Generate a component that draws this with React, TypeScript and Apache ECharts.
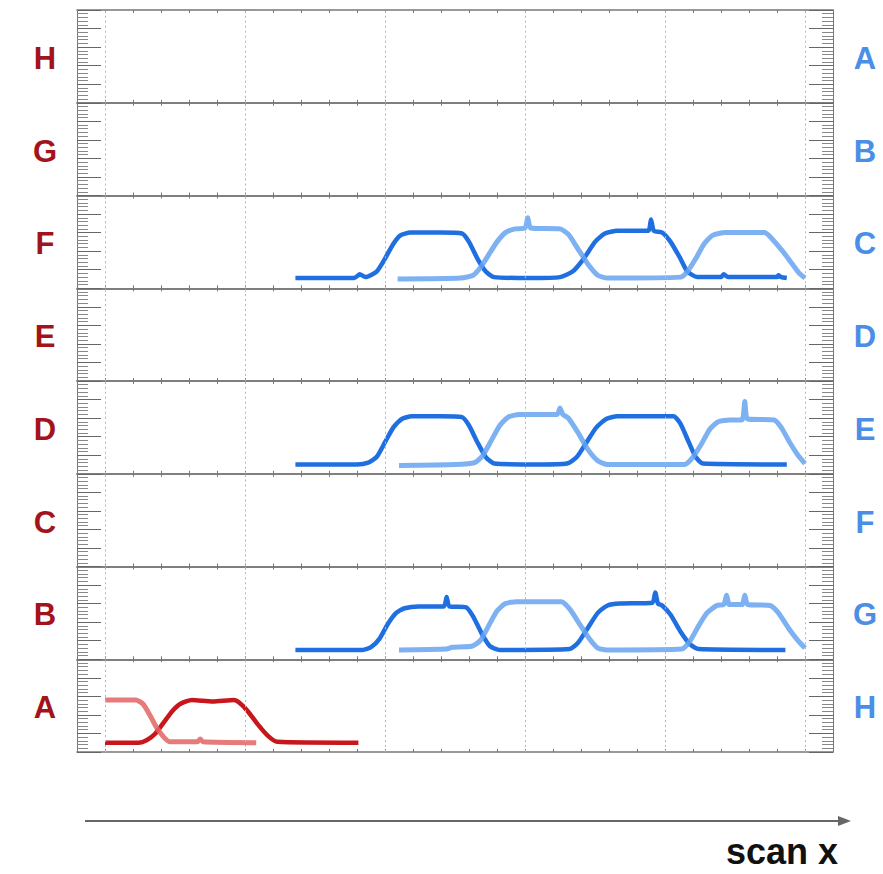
import React, { useEffect, useRef } from "react";
import * as echarts from "echarts";

const leftLabels = ["H", "G", "F", "E", "D", "C", "B", "A"];
const rightLabels = ["A", "B", "C", "D", "E", "F", "G", "H"];
const gridLineX = [0, 5, 10, 15, 20, 25];

const panelF_main = [[6.8,0.55],[8.9,0.55],[9.1,0.75],[9.3,0.6],[9.7,0.9],[10.0,1.6],[10.3,2.4],[10.55,2.85],[10.9,3.0],[12.0,3.0],[12.75,2.95],[13.0,2.5],[13.3,1.6],[13.6,0.9],[13.9,0.6],[15.2,0.55],[16.25,0.6],[16.7,0.9],[17.1,1.6],[17.5,2.5],[17.85,2.95],[18.3,3.1],[19.4,3.1],[19.5,3.7],[19.6,3.1],[19.9,3.0],[20.2,2.5],[20.55,1.6],[20.8,0.9],[21.15,0.6],[22.0,0.6],[22.1,0.75],[22.25,0.6],[24.0,0.6],[24.05,0.7],[24.15,0.6],[24.35,0.55]];
const panelF_alt = [[10.45,0.5],[12.7,0.55],[13.15,0.7],[13.4,1.1],[13.7,1.8],[14.0,2.5],[14.3,3.0],[14.65,3.2],[15.0,3.25],[15.1,3.8],[15.2,3.25],[16.25,3.2],[16.55,2.9],[16.9,2.1],[17.25,1.3],[17.6,0.7],[17.95,0.55],[20.55,0.6],[20.8,0.9],[21.1,1.6],[21.4,2.4],[21.7,2.85],[22.15,3.0],[23.55,3.0],[23.8,2.7],[24.2,2.0],[24.55,1.3],[24.8,0.8],[25.0,0.55]];

const panelD_main = [[6.8,0.5],[9.0,0.5],[9.4,0.6],[9.7,0.9],[10.0,1.7],[10.3,2.5],[10.6,2.95],[10.95,3.1],[12.0,3.1],[12.75,3.05],[13.0,2.6],[13.3,1.7],[13.6,0.9],[13.9,0.55],[15.5,0.5],[16.5,0.55],[16.85,0.9],[17.2,1.7],[17.55,2.5],[17.9,2.95],[18.3,3.1],[20.3,3.1],[20.55,2.7],[20.85,1.7],[21.1,0.9],[21.35,0.55],[24.35,0.5]];
const panelD_alt = [[10.5,0.45],[12.5,0.5],[13.2,0.6],[13.5,1.0],[13.8,1.8],[14.1,2.6],[14.4,3.05],[14.8,3.2],[16.15,3.2],[16.25,3.55],[16.35,3.2],[16.55,3.0],[16.9,2.2],[17.25,1.3],[17.6,0.7],[17.95,0.5],[20.7,0.5],[21.0,0.9],[21.3,1.6],[21.6,2.4],[21.9,2.8],[22.3,2.9],[22.75,2.9],[22.85,3.9],[22.95,2.95],[23.9,2.9],[24.15,2.5],[24.45,1.7],[24.75,1.0],[25.0,0.55]];

const panelB_main = [[6.8,0.5],[9.2,0.5],[9.5,0.65],[9.8,1.1],[10.1,1.9],[10.4,2.5],[10.7,2.75],[11.2,2.85],[12.1,2.85],[12.2,3.35],[12.3,2.85],[12.9,2.8],[13.15,2.3],[13.45,1.4],[13.75,0.7],[14.1,0.5],[16.6,0.55],[16.9,0.9],[17.25,1.7],[17.6,2.5],[17.95,2.9],[18.4,3.0],[19.55,3.05],[19.65,3.6],[19.75,3.0],[19.9,2.9],[20.2,2.4],[20.55,1.5],[20.9,0.8],[21.2,0.55],[24.3,0.5]];
const panelB_alt = [[10.5,0.5],[12.2,0.55],[12.4,0.65],[13.1,0.7],[13.4,1.0],[13.7,1.8],[14.0,2.6],[14.3,3.0],[14.7,3.1],[16.3,3.1],[16.6,2.7],[16.95,1.9],[17.3,1.1],[17.6,0.6],[18.0,0.5],[20.6,0.55],[20.9,1.0],[21.2,1.8],[21.5,2.5],[21.85,2.9],[22.1,2.95],[22.2,3.45],[22.3,2.95],[22.75,2.95],[22.85,3.45],[22.95,2.95],[23.75,2.9],[24.05,2.5],[24.4,1.7],[24.75,1.0],[25.0,0.6]];

const panelA_main = [[0,0.5],[1.2,0.5],[1.5,0.65],[1.8,1.0],[2.1,1.6],[2.4,2.2],[2.7,2.6],[3.1,2.8],[3.85,2.72],[4.6,2.8],[4.8,2.65],[5.1,2.2],[5.45,1.5],[5.8,0.9],[6.15,0.55],[9.05,0.5]];
const panelA_alt = [[0,2.8],[1.1,2.8],[1.35,2.6],[1.6,2.0],[1.85,1.3],[2.1,0.8],[2.3,0.55],[3.3,0.55],[3.4,0.7],[3.5,0.55],[5.4,0.5]];

const panelTraces: { panel: number; main: number[][]; alt: number[][]; mainColor: string; altColor: string }[] = [
  { panel: 2, main: panelF_main, alt: panelF_alt, mainColor: "#1f6fe0", altColor: "#66a3f0" },
  { panel: 4, main: panelD_main, alt: panelD_alt, mainColor: "#1f6fe0", altColor: "#66a3f0" },
  { panel: 6, main: panelB_main, alt: panelB_alt, mainColor: "#1f6fe0", altColor: "#66a3f0" },
  { panel: 7, main: panelA_main, alt: panelA_alt, mainColor: "#c8161c", altColor: "#e06464" },
];

const TOP = 10;
const PH = 92.75;
const LEFT = 77;
const RIGHT_EDGE = 833;

export default function App() {
  const ref = useRef<HTMLDivElement>(null);
  useEffect(() => {
    if (!ref.current) return;
    const chart = echarts.init(ref.current, undefined, { renderer: "svg" });
    const grids: any[] = [];
    const xAxes: any[] = [];
    const yAxes: any[] = [];
    const series: any[] = [];
    const axisColor = "#777";
    for (let i = 0; i < 8; i++) {
      grids.push({ left: LEFT, width: RIGHT_EDGE - LEFT, top: TOP + i * PH, height: PH });
      for (const pos of ["bottom", "top"]) {
        xAxes.push({
          type: "value", gridIndex: i, min: -1, max: 26, interval: 1, position: pos,
          axisLine: { show: true, onZero: false, lineStyle: { color: axisColor, width: 1.5 } },
          axisTick: { show: true, inside: true, length: 3, lineStyle: { color: axisColor } },
          axisLabel: { show: false }, splitLine: { show: false },
        });
      }
      for (const pos of ["left", "right"]) {
        yAxes.push({
          type: "value", gridIndex: i, min: 0, max: 5, interval: 1, position: pos,
          axisLine: { show: true, onZero: false, lineStyle: { color: axisColor, width: 1 } },
          axisTick: { show: true, inside: true, length: 24, lineStyle: { color: "#666" } },
          minorTick: { show: true, splitNumber: 5, length: 11, lineStyle: { color: "#888" } },
          axisLabel: { show: false }, splitLine: { show: false },
        });
      }
      series.push({
        type: "line", xAxisIndex: i * 2, yAxisIndex: i * 2, data: [], silent: true,
        markLine: {
          silent: true, symbol: "none", label: { show: false },
          lineStyle: { type: [2, 3], color: "#b5b5b5", width: 1 },
          data: gridLineX.map((x) => ({ xAxis: x })),
        },
      });
    }
    for (const t of panelTraces) {
      series.push({
        type: "line", xAxisIndex: t.panel * 2, yAxisIndex: t.panel * 2, data: t.main,
        showSymbol: false, smooth: 0.2, lineStyle: { color: t.mainColor, width: 4.5 }, z: 3,
      });
      series.push({
        type: "line", xAxisIndex: t.panel * 2, yAxisIndex: t.panel * 2, data: t.alt,
        showSymbol: false, smooth: 0.2, lineStyle: { color: t.altColor, width: 5, opacity: 0.85 }, z: 4,
      });
    }
    const graphic: any[] = [];
    for (let i = 0; i < 8; i++) {
      const cy = TOP + (i + 0.5) * PH + 2;
      graphic.push({
        type: "text", x: 45, y: cy,
        style: { text: leftLabels[i], fill: "#a3131b", font: "bold 31px 'Liberation Sans', Arial, sans-serif", textAlign: "center", textVerticalAlign: "middle" },
      });
      graphic.push({
        type: "text", x: 865, y: cy,
        style: { text: rightLabels[i], fill: "#4a8ee6", font: "bold 31px 'Liberation Sans', Arial, sans-serif", textAlign: "center", textVerticalAlign: "middle" },
      });
    }
    graphic.push({ type: "line", shape: { x1: 85, y1: 821, x2: 842, y2: 821 }, style: { stroke: "#666", lineWidth: 2 } });
    graphic.push({ type: "polygon", shape: { points: [[851, 821], [838, 816], [838, 826]] }, style: { fill: "#666" } });
    graphic.push({
      type: "text", x: 838, y: 851,
      style: { text: "scan x", fill: "#111", font: "bold 36px 'Liberation Sans', Arial, sans-serif", textAlign: "right", textVerticalAlign: "middle" },
    });
    chart.setOption({ animation: false, grid: grids, xAxis: xAxes, yAxis: yAxes, series, graphic });
    return () => chart.dispose();
  }, []);
  return <div ref={ref} style={{ position: "absolute", left: 0, top: 0, width: 883, height: 874, background: "#fff" }} />;
}
